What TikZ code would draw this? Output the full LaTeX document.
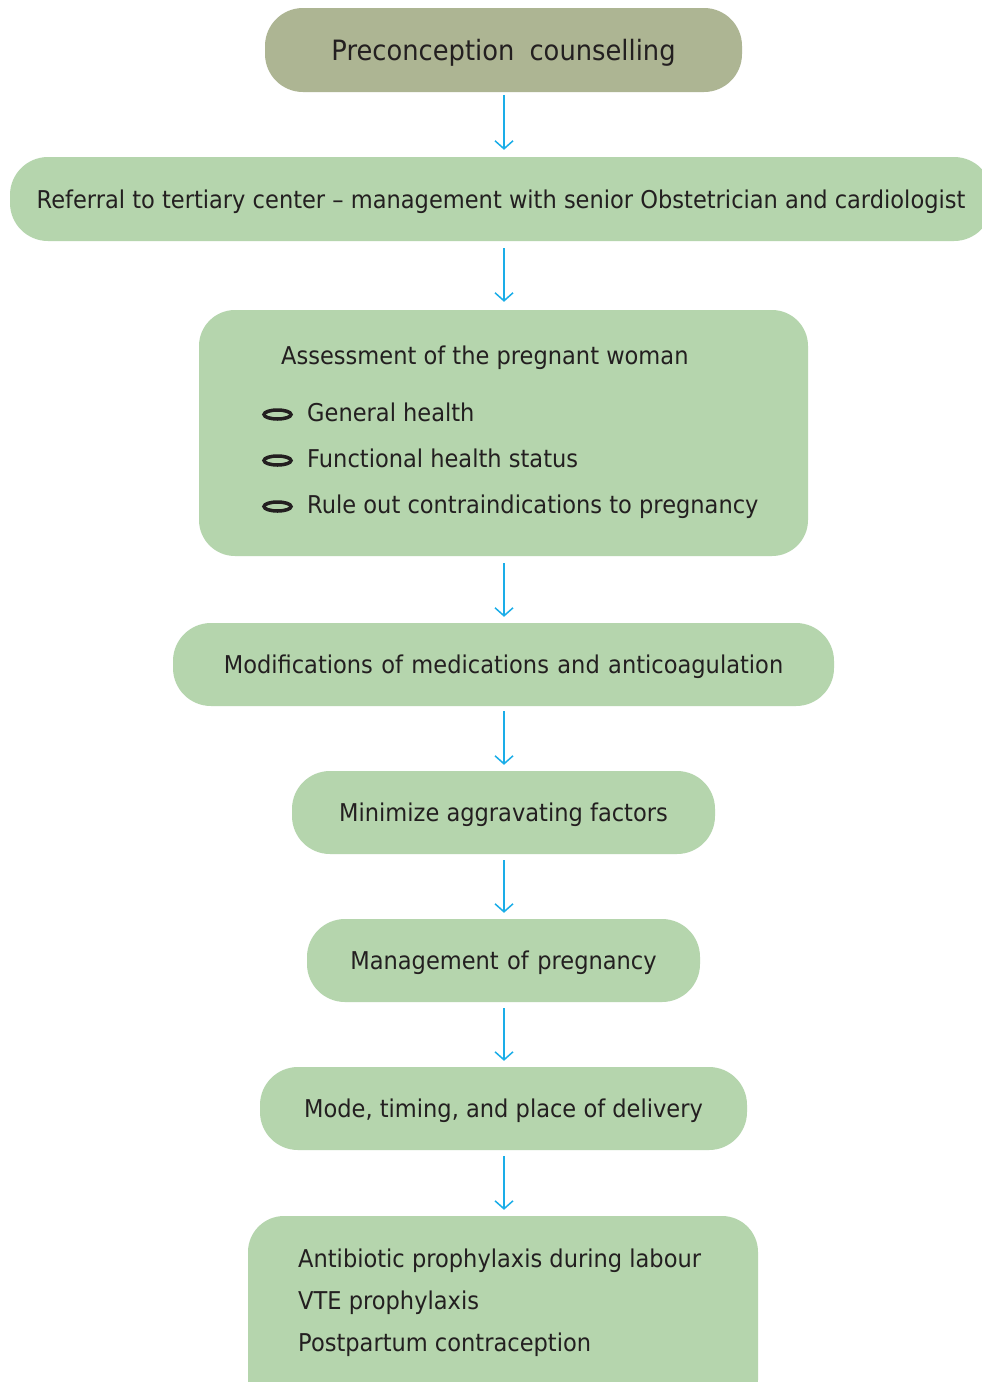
\documentclass[tikz,border=0pt]{standalone}
\usepackage{fontspec}
\setmainfont{DejaVu Sans}[FakeStretch=0.92]
\usetikzlibrary{arrows.meta,shapes.geometric}
\definecolor{olivebox}{HTML}{ADB593}
\definecolor{greenbox}{HTML}{B5D5AD}
\definecolor{arrowblue}{HTML}{1AADE8}
\definecolor{txt}{HTML}{231F20}
\begin{document}
\begin{tikzpicture}[x=1pt,y=-1pt,
  box/.style={rounded corners=38pt, inner sep=0pt, text=txt, text height=23.5pt, font=\fontsize{24.5}{28}\selectfont},
  greenb/.style={box, fill=greenbox},
  flow/.style={arrowblue, line width=1.6pt, -{Straight Barb[length=8pt,width=18pt,line width=1.5pt]}},
  lbl/.style={text=txt, inner sep=0pt, anchor=base west, font=\fontsize{24.5}{28}\selectfont},
  bul/.style={draw=txt, line width=3.5pt, ellipse, minimum width=27pt, minimum height=9pt, inner sep=0pt}
]
\useasboundingbox (0,0) rectangle (982,1382);
\fill[white] (0,0) rectangle (982,1382);
% boxes
\node[box, fill=olivebox, minimum width=477pt, minimum height=84pt, text height=26.5pt, font=\fontsize{28}{32}\selectfont] (b1) at (503.5,50) {Preconception\hspace{0.25em} counselling};
\node[greenb, minimum width=982pt, minimum height=84pt] (b2) at (501,199) {};
\node[lbl, anchor=base] (t2) at (501,208.5) {Referral to tertiary center -- management with senior Obstetrician and cardiologist};
\node[greenb, rounded corners=36pt, minimum width=609pt, minimum height=246pt] (b3) at (503.5,433) {};
\node[lbl] (t3) at (281,364) {Assessment of the pregnant woman};
\node[lbl] (t3a) at (307,421.5) {General health};
\node[lbl] (t3b) at (307,467.5) {Functional health status};
\node[lbl] (t3c) at (307,513) {Rule out contraindications to pregnancy};
\node[bul] (o1) at (277.5,414.5) {};
\node[bul] (o2) at (277.5,460.5) {};
\node[bul] (o3) at (277.5,506.5) {};
\node[greenb, minimum width=661pt, minimum height=83pt] (b4) at (503.5,664.5) {Modifications\hspace{0.05em} of\hspace{0.05em} medications\hspace{0.05em} and\hspace{0.05em} anticoagulation};
\node[greenb, minimum width=423pt, minimum height=83pt] (b5) at (503.5,812.5) {Minimize aggravating factors};
\node[greenb, minimum width=393pt, minimum height=83pt] (b6) at (503.5,960.5) {Management\hspace{0.05em} of\hspace{0.05em} pregnancy};
\node[greenb, minimum width=487pt, minimum height=83pt] (b7) at (503.5,1108.5) {Mode, timing, and place of delivery};
\node[greenb, rounded corners=36pt, minimum width=510pt, minimum height=200pt] (b8) at (503,1316) {};
\node[lbl] (t8a) at (298,1267) {Antibiotic prophylaxis during labour};
\node[lbl] (t8b) at (298,1309) {VTE prophylaxis};
\node[lbl] (t8c) at (298,1351) {Postpartum contraception};
% arrows
\draw[flow] ([yshift=-3pt]b1.south -| 504,0) -- ([yshift=7pt]b2.north -| 504,0);
\draw[flow] ([yshift=-7pt]b2.south -| 504,0) -- ([yshift=8pt]b3.north -| 504,0);
\draw[flow] ([yshift=-7pt]b3.south -| 504,0) -- ([yshift=6pt]b4.north -| 504,0);
\draw[flow] ([yshift=-5pt]b4.south -| 504,0) -- ([yshift=6pt]b5.north -| 504,0);
\draw[flow] ([yshift=-6pt]b5.south -| 504,0) -- ([yshift=6pt]b6.north -| 504,0);
\draw[flow] ([yshift=-6pt]b6.south -| 504,0) -- ([yshift=6pt]b7.north -| 504,0);
\draw[flow] ([yshift=-6pt]b7.south -| 504,0) -- ([yshift=6pt]b8.north -| 504,0);
\end{tikzpicture}
\end{document}
